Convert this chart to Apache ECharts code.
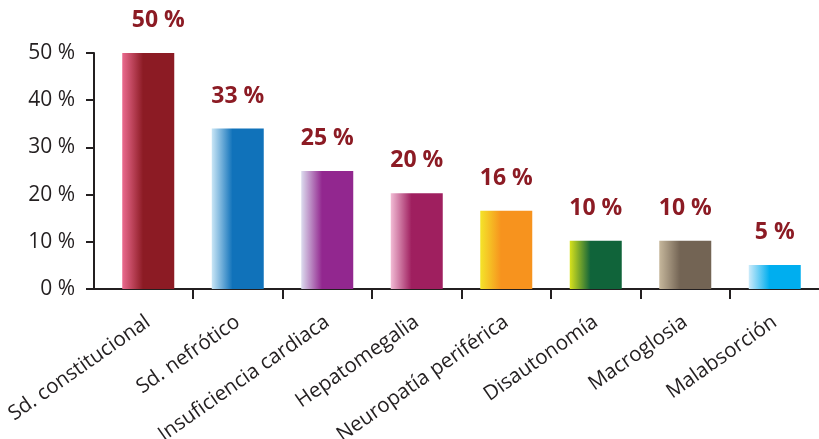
<!DOCTYPE html>
<html>
<head>
<meta charset="utf-8">
<script src="https://cdn.jsdelivr.net/npm/echarts@6/dist/echarts.min.js"></script>
<style>
  html, body { margin: 0; padding: 0; background: #fff; }
  #chart { width: 819px; height: 439px; }
</style>
</head>
<body>
<div id="chart"></div>
<script>
const categories = ['Sd. constitucional', 'Sd. nefrótico', 'Insuficiencia cardiaca', 'Hepatomegalia',
	'Neuropatía periférica', 'Disautonomía', 'Macroglosia', 'Malabsorción'];
const values = [50, 34, 25, 20.3, 16.6, 10.2, 10.2, 5.1];
const valueLabels = ['50 %', '33 %', '25 %', '20 %', '16 %', '10 %', '10 %', '5 %'];
const lightColors = ['#ea6a8e', '#c9e6f6', '#dcdcee', '#f2bcd5', '#f4e42a', '#d8e21c', '#c6b79c', '#cdebfa'];
const darkColors = ['#8c1b24', '#1072ba', '#92278f', '#9f1f5f', '#f7931e', '#10643a', '#736454', '#00aeef'];
const yTicks = [0, 10, 20, 30, 40, 50];

const chart = echarts.init(document.getElementById('chart'));

const axisColor = '#231f20';
const font = 'Open Sans';

let barData = [];
for (let i = 0; i < values.length; i++) {
	barData.push({
		value: values[i],
		itemStyle: {
			color: new echarts.graphic.LinearGradient(0, 0, 1, 0, [
				{offset: 0, color: lightColors[i]},
				{offset: 0.4, color: darkColors[i]},
				{offset: 1, color: darkColors[i]}
			])
		},
		label: i === 0 ? {offset: [10, 0]} : {}
	});
}

const option = {
	animation: false,
	grid: [
		// grid 0: y axis and base line
		{left: 94, right: 0, top: 53, bottom: 150, outerBoundsMode: 'none', containLabel: false},
		// grid 1: bars, ticks, category labels
		{left: 103.5, width: 716, top: 53, bottom: 150, outerBoundsMode: 'none', containLabel: false}
	],
	xAxis: [
		{
			gridIndex: 0,
			type: 'category',
			data: [''],
			axisLine: {lineStyle: {color: axisColor, width: 2}},
			axisTick: {show: false},
			axisLabel: {show: false}
		},
		{
			gridIndex: 1,
			type: 'category',
			data: categories,
			axisLine: {show: false},
			axisTick: {
				show: true,
				inside: false,
				length: 10,
				interval: function (index) {
					return index > 0;
				},
				lineStyle: {color: axisColor, width: 2}
			},
			axisLabel: {
				rotate: 35,
				interval: 0,
				margin: 31,
				color: axisColor,
				fontFamily: font,
				fontSize: 20.5
			}
		}
	],
	yAxis: [
		{
			gridIndex: 0,
			type: 'value',
			min: 0,
			max: 50,
			interval: 10,
			axisLine: {show: true, lineStyle: {color: axisColor, width: 2}},
			axisTick: {show: true, length: 8, lineStyle: {color: axisColor, width: 2}},
			splitLine: {show: false},
			axisLabel: {
				margin: 19,
				color: axisColor,
				fontFamily: font,
				fontSize: 21,
				formatter: function (v) {
					return yTicks.indexOf(v) >= 0 ? v + ' %' : '';
				}
			}
		},
		{
			gridIndex: 1,
			type: 'value',
			min: 0,
			max: 50,
			interval: 10,
			show: false
		}
	],
	series: [
		{
			type: 'bar',
			xAxisIndex: 1,
			yAxisIndex: 1,
			barWidth: 52,
			data: barData,
			label: {
				show: true,
				position: 'top',
				distance: 21,
				color: '#8c1b24',
				fontFamily: font,
				fontWeight: 'bold',
				fontSize: 23,
				formatter: function (p) {
					return valueLabels[p.dataIndex];
				}
			}
		}
	]
};

chart.setOption(option);
</script>
</body>
</html>
